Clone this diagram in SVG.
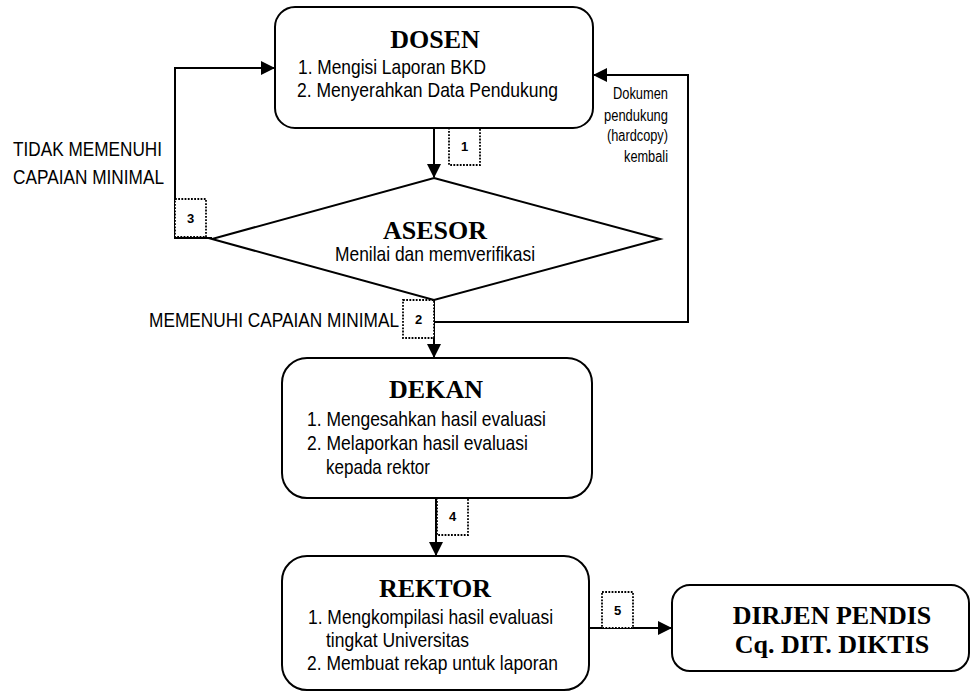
<svg xmlns="http://www.w3.org/2000/svg" width="977" height="693" viewBox="0 0 977 693">
<defs>
<marker id="ah" viewBox="0 0 14 14" refX="13" refY="7" markerWidth="14" markerHeight="14" markerUnits="userSpaceOnUse" orient="auto">
<path d="M0,0 L14,7 L0,14 Z" fill="#000"/>
</marker>
<style>
.box{fill:#fff;stroke:#000;stroke-width:2}
.line{fill:none;stroke:#000;stroke-width:2}
.dot{fill:#fff;stroke:#000;stroke-width:1.8;stroke-dasharray:1.8 1.4}
.title{font-family:"Liberation Serif","Times New Roman",serif;font-weight:bold;font-size:26px;text-anchor:middle;fill:#000}
.txt{font-family:"Liberation Sans Narrow","Liberation Sans",Arial,sans-serif;font-size:21px;fill:#000}
.sm{font-family:"Liberation Sans Narrow","Liberation Sans",Arial,sans-serif;font-size:16px;fill:#000;text-anchor:end}
.num{font-family:"Liberation Sans Narrow","Liberation Sans",Arial,sans-serif;font-size:13px;font-weight:bold;text-anchor:middle;fill:#000}
</style>
</defs>
<rect width="977" height="693" fill="#fff"/>

<g id="connectors">
<line class="line" x1="434" y1="128" x2="434" y2="177" marker-end="url(#ah)"/>
<polyline class="line" points="212,238 175,238 175,68 274,68" marker-end="url(#ah)"/>
<polyline class="line" points="434,322 688,322 688,75 594,75" marker-end="url(#ah)"/>
<line class="line" x1="434" y1="300" x2="434" y2="357" marker-end="url(#ah)"/>
<line class="line" x1="436" y1="498" x2="436" y2="555" marker-end="url(#ah)"/>
<line class="line" x1="589" y1="628" x2="671" y2="628" marker-end="url(#ah)"/>
<rect class="dot" x="449" y="128" width="31" height="37"/>
<text class="num" x="464.5" y="151">1</text>
<rect class="dot" x="403" y="300" width="31" height="38"/>
<text class="num" x="418.5" y="324">2</text>
<rect class="dot" x="175" y="199" width="31" height="38"/>
<text class="num" x="190.5" y="223">3</text>
<rect class="dot" x="437" y="498" width="31" height="37"/>
<text class="num" x="452.5" y="521">4</text>
<rect class="dot" x="602" y="592" width="31" height="36"/>
<text class="num" x="617.5" y="615">5</text>
<text class="txt" x="13" y="156" textLength="149" lengthAdjust="spacingAndGlyphs">TIDAK MEMENUHI</text>
<text class="txt" x="13" y="184" textLength="151" lengthAdjust="spacingAndGlyphs">CAPAIAN MINIMAL</text>
<text class="txt" x="149" y="327" textLength="250" lengthAdjust="spacingAndGlyphs">MEMENUHI CAPAIAN MINIMAL</text>
<text class="sm" x="668" y="99" textLength="55" lengthAdjust="spacingAndGlyphs">Dokumen</text>
<text class="sm" x="668" y="121" textLength="64" lengthAdjust="spacingAndGlyphs">pendukung</text>
<text class="sm" x="668" y="141" textLength="61" lengthAdjust="spacingAndGlyphs">(hardcopy)</text>
<text class="sm" x="668" y="162" textLength="44" lengthAdjust="spacingAndGlyphs">kembali</text>
</g>

<g id="dosen">
<rect class="box" x="275" y="7" width="318" height="121" rx="20" ry="20"/>
<text class="title" x="435" y="48">DOSEN</text>
<text class="txt" x="298" y="74" textLength="188" lengthAdjust="spacingAndGlyphs">1. Mengisi Laporan BKD</text>
<text class="txt" x="297" y="97" textLength="261" lengthAdjust="spacingAndGlyphs">2. Menyerahkan Data Pendukung</text>
</g>

<g id="asesor">
<polygon class="box" points="434,178 660,239 434,300 212,239"/>
<text class="title" x="435" y="239">ASESOR</text>
<text class="txt" x="335" y="261" textLength="200" lengthAdjust="spacingAndGlyphs">Menilai dan memverifikasi</text>
</g>

<g id="dekan">
<rect class="box" x="282" y="358" width="310" height="140" rx="25" ry="25"/>
<text class="title" x="436" y="398">DEKAN</text>
<text class="txt" x="307" y="426" textLength="239" lengthAdjust="spacingAndGlyphs">1. Mengesahkan hasil evaluasi</text>
<text class="txt" x="307" y="450" textLength="221" lengthAdjust="spacingAndGlyphs">2. Melaporkan hasil evaluasi</text>
<text class="txt" x="326" y="474" textLength="104" lengthAdjust="spacingAndGlyphs">kepada rektor</text>
</g>

<g id="rektor">
<rect class="box" x="282" y="556" width="307" height="134" rx="25" ry="25"/>
<text class="title" x="435" y="597">REKTOR</text>
<text class="txt" x="308" y="624" textLength="245" lengthAdjust="spacingAndGlyphs">1. Mengkompilasi hasil evaluasi</text>
<text class="txt" x="326" y="647" textLength="143" lengthAdjust="spacingAndGlyphs">tingkat Universitas</text>
<text class="txt" x="307" y="670" textLength="251" lengthAdjust="spacingAndGlyphs">2. Membuat rekap untuk laporan</text>
</g>

<g id="dirjen">
<rect class="box" x="672" y="585" width="297" height="86" rx="18" ry="18"/>
<text class="title" x="832" y="624">DIRJEN PENDIS</text>
<text class="title" x="832" y="653">Cq. DIT. DIKTIS</text>
</g>
</svg>
